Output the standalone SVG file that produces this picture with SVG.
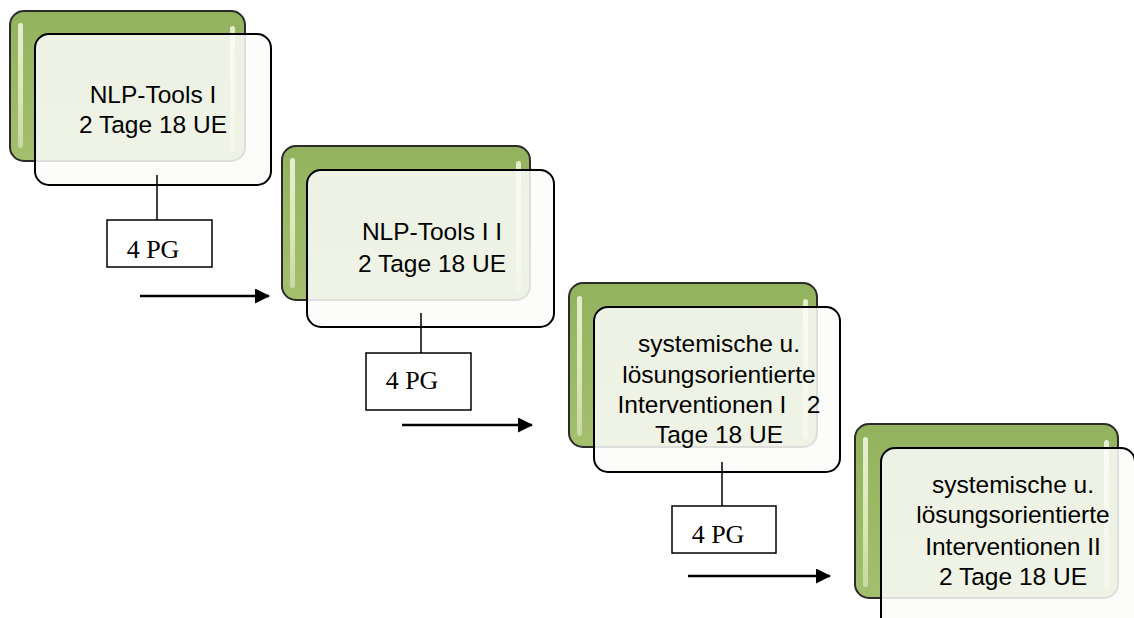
<svg xmlns="http://www.w3.org/2000/svg" width="1134" height="618" viewBox="0 0 1134 618">
<defs>
<linearGradient id="g" x1="0" y1="0" x2="0" y2="1">
<stop offset="0" stop-color="#93b25e"/>
<stop offset="1" stop-color="#a4bf6e"/>
</linearGradient>
<linearGradient id="hl" x1="0" y1="0" x2="0" y2="1">
<stop offset="0" stop-color="#f4f8e6" stop-opacity="0.85"/>
<stop offset="0.5" stop-color="#e8f2c8" stop-opacity="0.85"/>
<stop offset="1" stop-color="#f4f8e6" stop-opacity="0.45"/>
</linearGradient>
<marker id="ah" markerWidth="15" markerHeight="15" refX="14" refY="7.5" orient="auto" markerUnits="userSpaceOnUse">
<path d="M0,0 L15,7.5 L0,15 z" fill="#000"/>
</marker>
</defs>
<style>
.back{fill:url(#g);stroke:#2b2b2b;stroke-width:2}
.hl{fill:url(#hl)}
.front{fill:#fbfcf9;fill-opacity:0.86;stroke:#000;stroke-width:2}
.t{font-family:"Liberation Sans",Arial,sans-serif;font-size:24.5px;fill:#000;text-anchor:middle}
.pg{fill:#fff;stroke:#000;stroke-width:1.5}
.pt{font-family:"Liberation Serif","Times New Roman",serif;font-size:26px;fill:#000;text-anchor:middle}
.ln{stroke:#000;stroke-width:1.5;fill:none}
.ar{stroke:#000;stroke-width:2.5;fill:none;marker-end:url(#ah)}
</style>
<rect width="1134" height="618" fill="#fff"/>

<g id="node1">
<rect class="back" x="10" y="11" width="235" height="150" rx="14"/>
<rect class="hl" x="18" y="23" width="5" height="125" rx="2.5"/>
<rect class="hl" x="230" y="26" width="5" height="125" rx="2.5"/>
<rect class="front" x="35" y="34" width="236" height="151" rx="14"/>
<text class="t" x="153" y="103">NLP-Tools I</text>
<text class="t" x="153" y="133">2 Tage 18 UE</text>
</g>

<g id="node2">
<rect class="back" x="282" y="146" width="248" height="154" rx="14"/>
<rect class="hl" x="290" y="158" width="5" height="130" rx="2.5"/>
<rect class="hl" x="516" y="161" width="5" height="130" rx="2.5"/>
<rect class="front" x="307" y="170" width="247" height="157" rx="14"/>
<text class="t" x="432" y="240">NLP-Tools I I</text>
<text class="t" x="432" y="272">2 Tage 18 UE</text>
</g>

<g id="node3">
<rect class="back" x="569" y="283" width="248" height="164" rx="14"/>
<rect class="hl" x="577" y="296" width="5" height="140" rx="2.5"/>
<rect class="hl" x="803" y="299" width="5" height="140" rx="2.5"/>
<rect class="front" x="594" y="307" width="246" height="165" rx="14"/>
<text class="t" x="719" y="352">systemische u.</text>
<text class="t" x="719" y="383">lösungsorientierte</text>
<text class="t" x="719" y="413" xml:space="preserve">Interventionen I   2</text>
<text class="t" x="719" y="443">Tage 18 UE</text>
</g>

<g id="node4">
<rect class="back" x="855" y="424" width="263" height="174" rx="14"/>
<rect class="hl" x="863" y="437" width="5" height="150" rx="2.5"/>
<rect class="hl" x="1104" y="440" width="5" height="150" rx="2.5"/>
<rect class="front" x="881" y="448" width="254" height="185" rx="14"/>
<text class="t" x="1013" y="493">systemische u.</text>
<text class="t" x="1013" y="523">lösungsorientierte</text>
<text class="t" x="1013" y="555">Interventionen II</text>
<text class="t" x="1013" y="585">2 Tage 18 UE</text>
</g>

<g id="pg1">
<rect class="pg" x="107" y="220" width="105" height="47"/>
<text class="pt" x="153" y="258">4 PG</text>
</g>
<g id="pg2">
<rect class="pg" x="366" y="353" width="105" height="57"/>
<text class="pt" x="412" y="389">4 PG</text>
</g>
<g id="pg3">
<rect class="pg" x="672" y="506" width="104" height="47"/>
<text class="pt" x="718" y="543">4 PG</text>
</g>

<g id="connectors">
<line class="ln" x1="157" y1="175" x2="157" y2="220"/>
<line class="ln" x1="421" y1="313" x2="421" y2="353"/>
<line class="ln" x1="722" y1="462" x2="722" y2="506"/>
<line class="ar" x1="140" y1="296" x2="269" y2="296"/>
<line class="ar" x1="402" y1="425" x2="532" y2="425"/>
<line class="ar" x1="688" y1="576" x2="830" y2="576"/>
</g>
</svg>
